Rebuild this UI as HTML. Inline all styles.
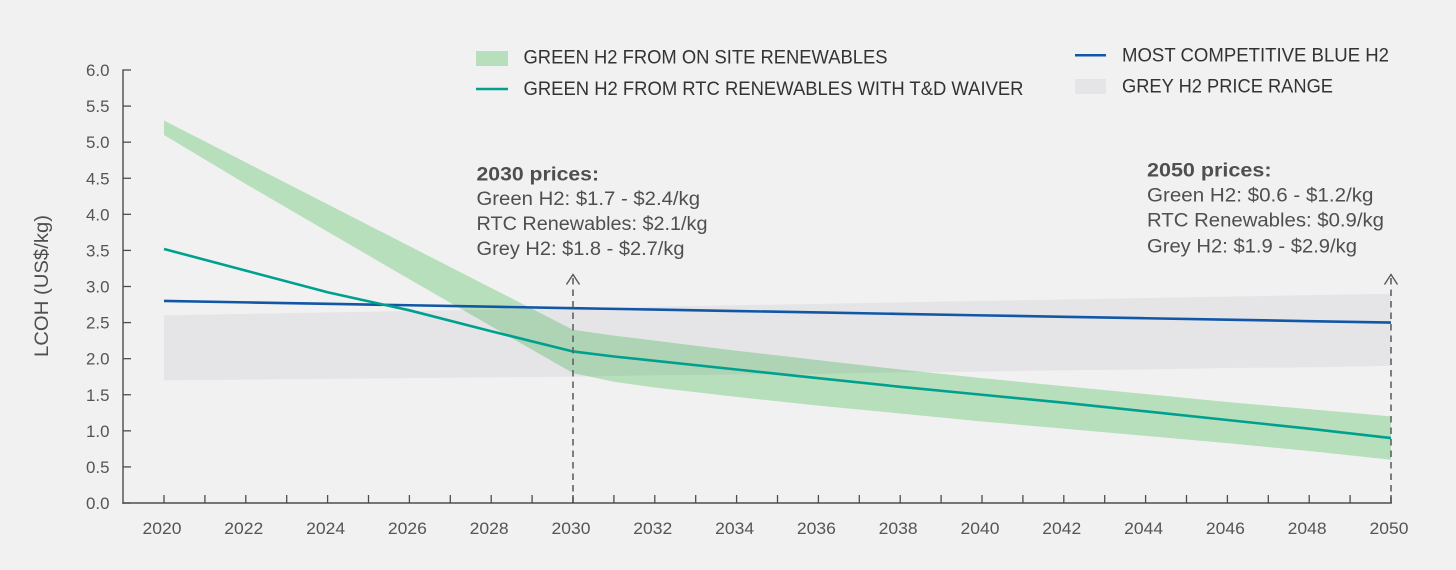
<!DOCTYPE html>
<html lang="en">
<head>
<meta charset="utf-8">
<title>LCOH chart</title>
<style>
html,body{margin:0;padding:0;background:#f1f1f1;}
svg{display:block;font-family:"Liberation Sans",sans-serif;}
</style>
</head>
<body>
<svg id="chart" xmlns="http://www.w3.org/2000/svg" width="1456" height="570" viewBox="0 0 1456 570">
  <rect x="0" y="0" width="1456" height="570" fill="#f1f1f1"/>
  <g id="plot"></g>
  <g id="axes"></g>
  <text transform="translate(48,357) rotate(-90)" font-size="19.5" fill="#4f4f50" textLength="142" lengthAdjust="spacingAndGlyphs">LCOH (US$/kg)</text>

  <g font-size="19" fill="#333335">
    <g>
      <rect x="476" y="51" width="32" height="15" fill="#b7dfbc"/>
      <text x="523.5" y="63.5" textLength="364" lengthAdjust="spacingAndGlyphs">GREEN H2 FROM ON SITE RENEWABLES</text>
    </g>
    <g>
      <line x1="476" x2="508" y1="89" y2="89" stroke="#00a08f" stroke-width="2.5"/>
      <text x="523.5" y="95" textLength="500" lengthAdjust="spacingAndGlyphs">GREEN H2 FROM RTC RENEWABLES WITH T&amp;D WAIVER</text>
    </g>
    <g>
      <line x1="1075" x2="1106" y1="55.3" y2="55.3" stroke="#1257a6" stroke-width="2.5"/>
      <text x="1122" y="61.5" textLength="267" lengthAdjust="spacingAndGlyphs">MOST COMPETITIVE BLUE H2</text>
    </g>
    <g>
      <rect x="1075" y="79" width="31" height="15" fill="#e5e5e8"/>
      <text x="1122" y="92.5" textLength="211" lengthAdjust="spacingAndGlyphs">GREY H2 PRICE RANGE</text>
    </g>
  </g>

  <g font-size="19" fill="#4f4f50">
    <text x="476.5" y="180.5" font-weight="bold" textLength="122.5" lengthAdjust="spacingAndGlyphs">2030 prices:</text>
    <text x="476.5" y="205" textLength="223.5" lengthAdjust="spacingAndGlyphs">Green H2: $1.7 - $2.4/kg</text>
    <text x="476.5" y="230" textLength="231" lengthAdjust="spacingAndGlyphs">RTC Renewables: $2.1/kg</text>
    <text x="476.5" y="255" textLength="208" lengthAdjust="spacingAndGlyphs">Grey H2: $1.8 - $2.7/kg</text>
  </g>
  <g font-size="19" fill="#4f4f50">
    <text x="1147" y="176.5" font-weight="bold" textLength="124.5" lengthAdjust="spacingAndGlyphs">2050 prices:</text>
    <text x="1147" y="201.5" textLength="226.5" lengthAdjust="spacingAndGlyphs">Green H2: $0.6 - $1.2/kg</text>
    <text x="1147" y="226.5" textLength="237" lengthAdjust="spacingAndGlyphs">RTC Renewables: $0.9/kg</text>
    <text x="1147" y="252.5" textLength="210" lengthAdjust="spacingAndGlyphs">Grey H2: $1.9 - $2.9/kg</text>
  </g>
</svg>
<script>
const tickYears = [2020,2021,2022,2023,2024,2025,2026,2027,2028,2029,2030,2031,2032,2033,2034,2035,2036,2037,2038,2039,2040,2041,2042,2043,2044,2045,2046,2047,2048,2049,2050];
const xLabels = ["2020","2022","2024","2026","2028","2030","2032","2034","2036","2038","2040","2042","2044","2046","2048","2050"];
const yLabels = ["0.0","0.5","1.0","1.5","2.0","2.5","3.0","3.5","4.0","4.5","5.0","5.5","6.0"];
const years = [2020,2022,2024,2026,2028,2030,2031,2032,2034,2036,2038,2040,2042,2044,2046,2048,2050];
const greenUpper = [5.3,4.72,4.14,3.56,2.98,2.4,2.32,2.25,2.11,1.98,1.85,1.73,1.62,1.51,1.4,1.3,1.2];
const greenLower = [5.1,4.42,3.76,3.1,2.45,1.8,1.68,1.6,1.47,1.35,1.24,1.13,1.03,0.93,0.83,0.72,0.6];
const rtcLine = [3.52,3.22,2.92,2.67,2.38,2.1,2.03,1.97,1.85,1.73,1.61,1.5,1.39,1.27,1.15,1.03,0.9];
const blueLine = [2.8,2.78,2.76,2.74,2.72,2.7,2.69,2.68,2.66,2.64,2.62,2.6,2.58,2.56,2.54,2.52,2.5];
const greyUpper = [2.6,2.62,2.64,2.66,2.68,2.7,2.71,2.72,2.74,2.76,2.78,2.8,2.82,2.84,2.86,2.88,2.9];
const greyLower = [1.7,1.71,1.72,1.73,1.74,1.75,1.76,1.77,1.78,1.79,1.81,1.82,1.84,1.85,1.87,1.88,1.9];
const markerYears = [2030,2050];

const NS = 'http://www.w3.org/2000/svg';
const x = year => 164 + (year - 2020) * (1391 - 164) / 30;
const y = value => 503 - value * (503 - 70) / 6;
const plot = document.getElementById('plot');
const axes = document.getElementById('axes');

function make(tag, attrs, parent) {
  const el = document.createElementNS(NS, tag);
  for (const k in attrs) el.setAttribute(k, attrs[k]);
  parent.appendChild(el);
  return el;
}
function linePoints(values) {
  return values.map((v, i) => x(years[i]).toFixed(2) + ',' + y(v).toFixed(2)).join(' ');
}
function bandPoints(upper, lower) {
  const top = upper.map((v, i) => x(years[i]).toFixed(2) + ',' + y(v).toFixed(2));
  const bottom = lower.map((v, i) => x(years[i]).toFixed(2) + ',' + y(v).toFixed(2)).reverse();
  return top.concat(bottom).join(' ');
}

const greyBand = make('polygon', {points: bandPoints(greyUpper, greyLower), fill: '#e5e5e8'}, plot);



const greenBand = make('polygon', {points: bandPoints(greenUpper, greenLower), fill: '#c2ecc7', style: 'mix-blend-mode:multiply'}, plot);



const blueSeries = make('polyline', {points: linePoints(blueLine), fill: 'none', stroke: '#1257a6', 'stroke-width': 2.6}, plot);



const rtcSeries = make('polyline', {points: linePoints(rtcLine), fill: 'none', stroke: '#00a08f', 'stroke-width': 2.6, 'stroke-linejoin': 'round'}, plot);



markerYears.forEach(year => {
  const guide = make('line', {x1: x(year), x2: x(year), y1: 503, y2: 276, stroke: '#626264', 'stroke-width': 1.6, 'stroke-dasharray': '6.5 5'}, plot);
  
  
  const head = make('polyline', {points: (x(year) - 6.5) + ',284.5 ' + x(year) + ',274.5 ' + (x(year) + 6.5) + ',284.5', fill: 'none', stroke: '#58585a', 'stroke-width': 1.4}, plot);
  
  
});

const yAxisLine = make('line', {x1: 123, x2: 123, y1: 69.4, y2: 503.7, stroke: '#4d4d4f', 'stroke-width': 1.4}, axes);


const xAxisLine = make('line', {x1: 122.3, x2: 1391.8, y1: 503, y2: 503, stroke: '#4d4d4f', 'stroke-width': 1.4}, axes);



yLabels.forEach(label => {
  const v = parseFloat(label);
  const tick = make('line', {x1: 123, x2: 131, y1: y(v), y2: y(v), stroke: '#4d4d4f', 'stroke-width': 1.3}, axes);
  
  
  const text = make('text', {x: 86, y: y(v) + 6, 'font-size': 16.5, fill: '#555557', textLength: 23.5, lengthAdjust: 'spacingAndGlyphs'}, axes);
  
  
  text.textContent = label;
});

tickYears.forEach(year => {
  const tick = make('line', {x1: x(year), x2: x(year), y1: 495, y2: 503, stroke: '#4d4d4f', 'stroke-width': 1.3}, axes);
  
  
});

xLabels.forEach(label => {
  const text = make('text', {x: x(+label) - 2, y: 534, 'font-size': 16.5, fill: '#555557', 'text-anchor': 'middle', textLength: 39, lengthAdjust: 'spacingAndGlyphs'}, axes);
  
  
  text.textContent = label;
});
</script>
</body>
</html>
